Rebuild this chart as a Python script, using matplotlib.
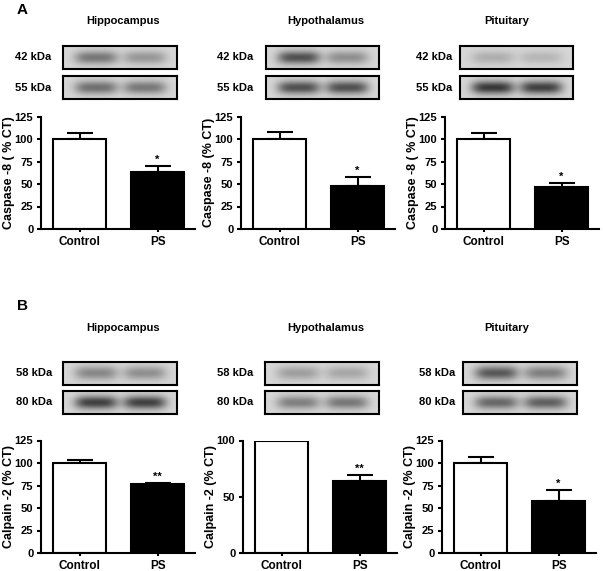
import numpy as np
import matplotlib
matplotlib.use('Agg')
from matplotlib import pyplot as plt

plt.rcParams['font.family'] = ['Liberation Sans', 'DejaVu Sans']
plt.rcParams['font.weight'] = 'bold'

# data
regions = ['Hippocampus', 'Hypothalamus', 'Pituitary']
groups = ['Control', 'PS']

caspase_mean = [[100, 63], [100, 48], [100, 47]]
caspase_err = [[7, 7], [8, 10], [7, 4]]
caspase_stars = ['*', '*', '*']
caspase_ylabels = ['Caspase -8 ( % CT)', 'Caspase -8 (% CT)', 'Caspase -8 ( % CT)']
caspase_kda = ['42 kDa', '55 kDa']

calpain_mean = [[100, 77], [100, 64], [100, 58]]
calpain_err = [[3, 1], [0, 5], [7, 12]]
calpain_stars = ['**', '**', '*']
calpain_ylabels = ['Calpain -2 (% CT)', 'Calpain -2 (% CT)', 'Calpain -2 (% CT)']
calpain_kda = ['58 kDa', '80 kDa']

# band darkness per lane (control, PS), top blot then bottom blot
caspase_bands = [[[0.6, 0.4], [0.65, 0.6]],
                 [[0.85, 0.45], [0.85, 0.85]],
                 [[0.25, 0.2], [1.0, 0.95]]]
calpain_bands = [[[0.5, 0.45], [0.95, 0.95]],
                 [[0.35, 0.3], [0.55, 0.6]],
                 [[0.8, 0.55], [0.7, 0.75]]]

W, H = 603, 571
fig = plt.figure(figsize=(W / 100, H / 100), dpi=100)


def px_axes(x0, y0, x1, y1):
    return fig.add_axes([x0 / W, 1 - y1 / H, (x1 - x0) / W, (y1 - y0) / H])


def draw_blot(ax, levels):
    nx, ny = 120, 26
    xx, yy = np.meshgrid(np.linspace(0, 1, nx), np.linspace(0, 1, ny))
    img = np.full((ny, nx), 0.84)
    for c, lvl in zip([0.29, 0.72], levels):
        img -= 0.62 * lvl * np.exp(-((xx - c) / 0.19) ** 4) * np.exp(-((yy - 0.5) / 0.3) ** 2)
    ax.imshow(img, cmap='gray', vmin=0, vmax=1, aspect='auto', interpolation='bilinear')
    ax.set_xticks([])
    ax.set_yticks([])
    for s in ax.spines.values():
        s.set_linewidth(1.5)


def draw_bars(ax, means, errs, star, ylabel, ymax, yticks):
    x = np.arange(len(groups))
    ax.bar(x, means, width=0.68, color=['white', 'black'], edgecolor='black', linewidth=1.5, zorder=2)
    for xi, m, e in zip(x, means, errs):
        if e > 0:
            ax.errorbar(xi, m, yerr=[[0], [e]], fmt='none', ecolor='black',
                        elinewidth=1.5, capsize=9.5, capthick=1.5, zorder=1)
    ax.text(x[1], means[1] + errs[1] + 1, star, ha='center', va='bottom', fontsize=8)
    ax.set_xlim(-0.5, 1.48)
    ax.set_ylim(0, ymax)
    ax.set_yticks(yticks)
    ax.set_xticks(x)
    ax.set_xticklabels(groups, fontsize=8.5, fontweight='bold')
    ax.tick_params(axis='y', direction='out', length=3, width=1.5, labelsize=8, pad=2.5)
    ax.tick_params(axis='x', direction='out', length=2, width=1.5, pad=3)
    for lab in ax.get_yticklabels():
        lab.set_fontweight('bold')
    ax.spines['top'].set_visible(False)
    ax.spines['right'].set_visible(False)
    ax.spines['left'].set_linewidth(1.5)
    ax.spines['bottom'].set_linewidth(1.5)
    ax.set_ylabel(ylabel, fontsize=9, fontweight='bold')
    ax.yaxis.set_label_coords(-0.168, 0.5)


# layout in pixels
title_x = [123, 326, 507]

panels = [
    dict(letter='A', letter_y=10, title_y=21, blot_y=[(46, 69), (76, 99)], kda_y=[57, 88],
         bar_y=(116.5, 229), means=caspase_mean, errs=caspase_err, stars=caspase_stars,
         ylabels=caspase_ylabels, kda=caspase_kda, bands=caspase_bands,
         blot_x=[(63, 177), (266, 379), (460, 573)], bar_left=[41, 241, 445],
         kda_right=[51, 253, 452]),
    dict(letter='B', letter_y=306, title_y=328, blot_y=[(362, 385), (391, 414)], kda_y=[373, 402],
         bar_y=(440.5, 553), means=calpain_mean, errs=calpain_err, stars=calpain_stars,
         ylabels=calpain_ylabels, kda=calpain_kda, bands=calpain_bands,
         blot_x=[(63, 177), (265, 379), (463, 577)], bar_left=[41, 243, 442],
         kda_right=[52, 253, 455]),
]

for p in panels:
    fig.text(17 / W, 1 - p['letter_y'] / H, p['letter'], fontsize=11, fontweight='bold',
             ha='left', va='center')
    for i, region in enumerate(regions):
        fig.text(title_x[i] / W, 1 - p['title_y'] / H, region, fontsize=8,
                 fontweight='bold', ha='center', va='center')
        x0, x1 = p['blot_x'][i]
        for j in range(2):
            y0, y1 = p['blot_y'][j]
            bax = px_axes(x0, y0, x1, y1)
            draw_blot(bax, p['bands'][i][j])
            fig.text(p['kda_right'][i] / W, 1 - p['kda_y'][j] / H, p['kda'][j], fontsize=8,
                     fontweight='bold', ha='right', va='center')
        top, bottom = p['bar_y']
        ax = px_axes(p['bar_left'][i], top, p['bar_left'][i] + 154, bottom)
        if p['letter'] == 'B' and i == 1:
            ymax, yticks = 100, [0, 50, 100]
        else:
            ymax, yticks = 125, [0, 25, 50, 75, 100, 125]
        draw_bars(ax, p['means'][i], p['errs'][i], p['stars'][i], p['ylabels'][i], ymax, yticks)

fig.savefig('out.png', dpi=100)
